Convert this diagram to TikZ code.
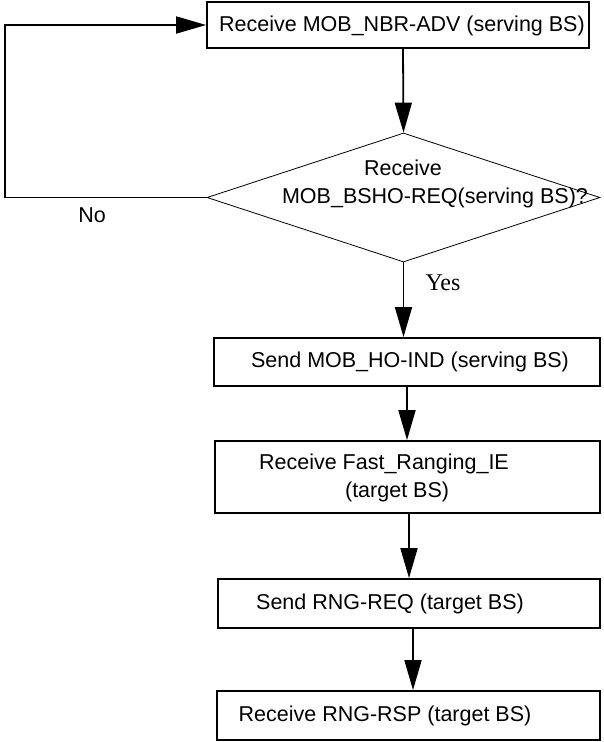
\documentclass[tikz,border=0pt]{standalone}
\usepackage{fontspec}
\setmainfont{Liberation Sans}
\newfontfamily\yesfont{Liberation Serif}
\usetikzlibrary{arrows.meta,shapes.geometric,calc}
\begin{document}
\begin{tikzpicture}[x=1pt,y=-1pt,
  box/.style={draw, line width=1.8pt, inner sep=0pt},
  txt/.style={font=\fontsize{21.5}{28}\selectfont, inner sep=0pt},
  conn/.style={line width=1.8pt, -{Triangle[length=30pt,width=17pt]}}]
\useasboundingbox (0,0) rectangle (604,742);

\node[box, minimum width=382pt, minimum height=46pt] (b1) at (398,25) {};
\node[txt] (t1) at (402,26) {Receive MOB\_NBR-ADV (serving BS)};

\node[diamond, draw, line width=0.8pt, minimum width=393pt, minimum height=129pt, inner sep=0pt] (d) at (403.5,197.5) {};
\node[txt] (d1) at (403,168) {Receive};
\node[txt] (d2) at (435,198) {MOB\_BSHO-REQ(serving BS)?};

\node[box, minimum width=386pt, minimum height=48pt] (b2) at (407,362) {};
\node[txt] (t2) at (410,362) {Send MOB\_HO-IND (serving BS)};

\node[box, minimum width=385pt, minimum height=72pt] (b3) at (407.5,477) {};
\node[txt, align=left] (t3) at (384,478) {Receive Fast\_Ranging\_IE\\\hspace*{86pt}(target BS)};

\node[box, minimum width=382pt, minimum height=49pt] (b4) at (409,603.5) {};
\node[txt] (t4) at (390,603.5) {Send RNG-REQ (target BS)};

\node[box, minimum width=383pt, minimum height=49pt] (b5) at (408.5,715.5) {};
\node[txt] (t5) at (385,715.5) {Receive RNG-RSP (target BS)};

\node[txt] (no) at (92,215) {No};
\node[font=\yesfont\fontsize{24}{28}\selectfont, inner sep=0pt] (yes) at (443,283) {Yes};

\coordinate (lc) at (5,197.5);
\draw[conn] (d.west) -- (d.west -| lc) |- (b1.west);
\draw[conn] ([xshift=5pt]b1.south) -- (d.north);
\draw[conn] (d.south) -- (d.south |- b2.north);
\draw[conn] (b2.south) -- (b2.south |- b3.north);
\draw[conn] ([xshift=1.5pt]b3.south) -- ([xshift=1.5pt]b3.south |- b4.north);
\draw[conn] ([xshift=4pt]b4.south) -- ([xshift=4pt]b4.south |- b5.north);
\end{tikzpicture}
\end{document}
